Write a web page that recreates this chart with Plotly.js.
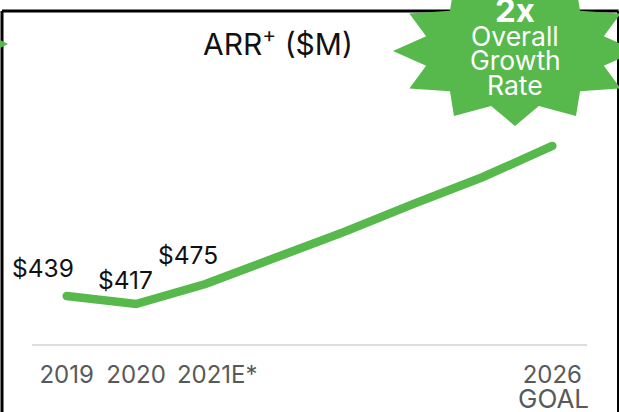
<!DOCTYPE html>
<html><head><meta charset="utf-8">
<script src="https://cdn.plot.ly/plotly-3.0.1.min.js"></script>
<style>html,body{margin:0;padding:0;background:#fff;overflow:hidden}#c{width:619px;height:412px}.js-line{stroke-linecap:round}</style>
</head><body><div id="c"></div>
<script>
const years = [2019, 2020, 2021, 2022, 2023, 2024, 2025, 2026];
const arr = [439, 416, 474, 549, 625, 706, 784, 874];
const tickYears = [2019, 2020, 2021, 2026];
const tickLabels = ['2019', '2020', '2021E*', '2026'];
const tickNudge = [0, 0, 0.17, 0];
const labelText = ['$439', '$417', '$475'];
const W = 619, H = 412;
const GREEN = '#57b84c';
const FONT = 'Inter, "Open Sans", sans-serif';
const px = x => x / W, py = y => 1 - y / H;
function star(cx, cy, rx, ry, irx, iry, n) {
  let d = '';
  for (let i = 0; i < n * 2; i++) {
    const a = Math.PI * i / n, o = i % 2 === 0;
    const x = cx + (o ? rx : irx) * Math.cos(a), y = cy + (o ? ry : iry) * Math.sin(a);
    d += (i ? 'L' : 'M') + px(x).toFixed(4) + ',' + py(y).toFixed(4);
  }
  return d + 'Z';
}
const pLine = (x0, y0, x1, y1, color, w) => ({type:'line', xref:'paper', yref:'paper', x0:px(x0), y0:py(y0), x1:px(x1), y1:py(y1), line:{color, width:w}, layer:'below'});
const note = (text, x, y, size, color, weight) => ({text, xref:'paper', yref:'paper', x:px(x), y:py(y), xanchor:'center', yanchor:'middle', showarrow:false, font:{family:FONT, size, color, weight:weight||400}});
const shifts = [[-24, 28], [-11, 24], [-17, 29]];
const dataNotes = labelText.map((t, i) => ({
  text: t, x: years[i], y: arr[i], xref:'x', yref:'y', showarrow:false,
  xanchor:'center', yanchor:'middle', xshift: shifts[i][0], yshift: shifts[i][1],
  font:{family:FONT, size:24.5, color:'#111'}
}));
Plotly.newPlot('c', [{
  x: years, y: arr, type:'scatter', mode:'lines',
  line:{color:GREEN, width:8.5, shape:'linear'},
  hoverinfo:'none', cliponaxis:false
}], {
  width:W, height:H, showlegend:false, paper_bgcolor:'#fff', plot_bgcolor:'#fff',
  margin:{l:0, r:0, t:0, b:0, pad:0},
  xaxis:{domain:[px(32), px(587)], range:[2018.5, 2026.5], tickmode:'array', tickvals:tickYears.map((y, i) => y + tickNudge[i]), ticktext:tickLabels, tickangle:0, showgrid:false, zeroline:false,
    showline:true, linecolor:'#dddddd', linewidth:2, ticks:'', tickfont:{family:FONT, size:24, color:'#58595b'}, ticklabelstandoff:8, automargin:false, fixedrange:true},
  yaxis:{domain:[py(344), 1], range:[300, 1297], visible:false, fixedrange:true},
  shapes:[
    pLine(2, 11, 618.5, 11, '#000', 3),
    pLine(2, 11, 2, 412, '#000', 3),
    pLine(618.5, 11, 618.5, 412, '#000', 3),
    {type:'path', xref:'paper', yref:'paper', path:star(515, 51, 122, 75, 92, 57, 12), fillcolor:GREEN, line:{width:0}, layer:'above'},
    {type:'path', xref:'paper', yref:'paper', path:'M'+px(0)+','+py(40)+'L'+px(8)+','+py(44)+'L'+px(0)+','+py(48)+'Z', fillcolor:GREEN, line:{width:0}, layer:'above'}
  ],
  annotations:[
    note('ARR<sup>+</sup> ($M)', 278, 42, 30, '#111'),
    note('2x', 515, 10, 33, '#fff', 700),
    note('Overall', 515, 36, 26.5, '#fff'),
    note('Growth', 515, 60, 26.5, '#fff'),
    note('Rate', 515, 85, 26.5, '#fff'),
    note('GOAL', 553, 398, 26, '#58595b')
  ].concat(dataNotes)
}, {displayModeBar:false, staticPlot:true});
</script></body></html>
